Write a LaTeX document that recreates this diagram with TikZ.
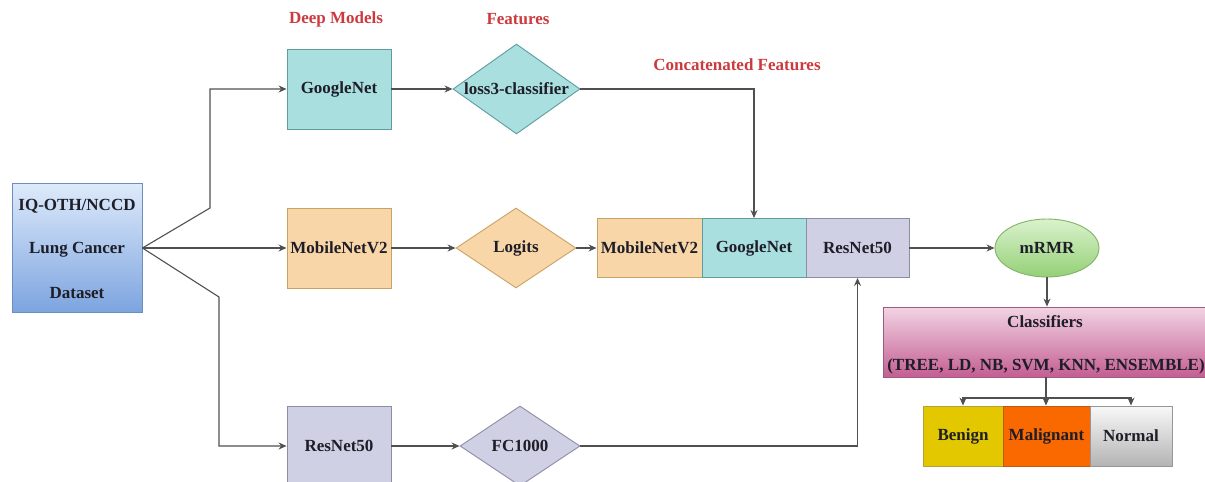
\documentclass[tikz,border=0pt]{standalone}
\usepackage{fontspec}
\setmainfont{Liberation Serif}[BoldFont={Liberation Serif Bold}]
\newfontfamily\tnr{Liberation Serif}[BoldFont={Liberation Serif Bold}]
\usetikzlibrary{shapes.geometric,arrows.meta}
\definecolor{txt}{HTML}{1E1E28}
\definecolor{redlab}{HTML}{CC3A3E}
\definecolor{lnc}{HTML}{505050}
\definecolor{gfill}{HTML}{AADFE0}
\definecolor{gdraw}{HTML}{5E9C9E}
\definecolor{mfill}{HTML}{F9D6A8}
\definecolor{mdraw}{HTML}{C9A266}
\definecolor{rfill}{HTML}{D0D0E4}
\definecolor{rdraw}{HTML}{8C8CA6}
\definecolor{dsdraw}{HTML}{6C8EBF}
\definecolor{dstop}{HTML}{DEEAFA}
\definecolor{dsbot}{HTML}{7CA4E0}
\definecolor{mrdraw}{HTML}{82B366}
\definecolor{mrtop}{HTML}{DAF2CD}
\definecolor{mrbot}{HTML}{94D076}
\definecolor{cldraw}{HTML}{A05A82}
\definecolor{cltop}{HTML}{F2D4E4}
\definecolor{clbot}{HTML}{C45E92}
\definecolor{bfill}{HTML}{E3C800}
\definecolor{bdraw}{HTML}{B4A03C}
\definecolor{mafill}{HTML}{FA6800}
\definecolor{madraw}{HTML}{BE5A14}
\definecolor{ndraw}{HTML}{969696}
\definecolor{ntop}{HTML}{F8F8F8}
\definecolor{nbot}{HTML}{B4B4B4}
\begin{document}
\begin{tikzpicture}[x=1pt,y=-1pt,
  every node/.style={font=\tnr\fontsize{17}{19}\selectfont\bfseries, text=txt, inner sep=0pt},
  boxg/.style={rectangle, draw=gdraw, fill=gfill, line width=0.9pt, minimum width=104pt, minimum height=80pt},
  boxm/.style={rectangle, draw=mdraw, fill=mfill, line width=0.9pt, minimum width=104pt, minimum height=80pt},
  boxr/.style={rectangle, draw=rdraw, fill=rfill, line width=0.9pt, minimum width=104pt, minimum height=80pt},
  dia/.style={diamond, line width=0.9pt, minimum width=120pt, minimum height=80pt},
  outbox/.style={rectangle, line width=0.9pt, minimum height=60pt},
  redtitle/.style={text=redlab},
  conn/.style={draw=lnc, line width=1.1pt, -{Stealth[length=8pt,width=7pt]}},
  plain/.style={draw=lnc, line width=1.1pt}]
\useasboundingbox (0,0) rectangle (1205,482);
% titles
\node[redtitle] (tdeep) at (336,19) {Deep Models};
\node[redtitle] (tfeat) at (518,19) {Features};
\node[redtitle] (tconc) at (737,65) {Concatenated Features};
% dataset
\node[rectangle, draw=dsdraw, top color=dstop, bottom color=dsbot, line width=0.9pt, minimum width=130pt, minimum height=129pt] (ds) at (77,248) {};
\node (dsa) at (77,206) {IQ-OTH/NCCD};
\node (dsb) at (77,250) {Lung Cancer};
\node (dsc) at (77,293) {Dataset};
% models
\node[boxg] (g1) at (339,89) {GoogleNet};
\node[boxm] (m1) at (339,248) {MobileNetV2};
\node[boxr] (r1) at (339,446) {ResNet50};
% features
\node[dia, draw=gdraw, fill=gfill, minimum width=127pt, minimum height=90pt] (dl) at (516.5,89) {};
\node (dlt) at (dl.center) {loss3-classifier};
\node[dia, draw=mdraw, fill=mfill] (dg) at (516,248) {};
\node (dgt) at (dg.center) {Logits};
\node[dia, draw=rdraw, fill=rfill] (df) at (520,446) {};
\node (dft) at (df.center) {FC1000};
% concatenated
\node[boxm, minimum width=105pt, minimum height=59pt] (c1) at (649.5,248) {MobileNetV2};
\node[boxg, minimum width=104pt, minimum height=59pt] (c2) at (754,248) {GoogleNet};
\node[boxr, minimum width=103pt, minimum height=59pt] (c3) at (857.5,248) {ResNet50};
% mRMR
\node[ellipse, draw=mrdraw, top color=mrtop, bottom color=mrbot, line width=0.9pt, minimum width=104pt, minimum height=58pt] (mr) at (1047,248) {mRMR};
% classifiers
\node[rectangle, draw=cldraw, top color=cltop, bottom color=clbot, line width=0.9pt, minimum width=322pt, minimum height=70pt] (cls) at (1044,342) {};
\node (clsa) at (1045,322) {Classifiers};
\node (clsb) at (1046,366) {(TREE, LD, NB, SVM, KNN, ENSEMBLE)};
% outcomes
\node[outbox, draw=bdraw, fill=bfill, minimum width=80pt] (ob) at (963,436) {Benign};
\node[outbox, draw=madraw, fill=mafill, minimum width=87pt] (om) at (1046.5,436) {Malignant};
\node[outbox, draw=ndraw, top color=ntop, bottom color=nbot, minimum width=82pt] (on) at (1131,436) {Normal};
% connectors
\coordinate (kup) at (210,208);
\coordinate (kdn) at (219,297);
\coordinate (split) at (1046,398);
\draw[conn] (ds.east) -- (kup) |- (g1.west);
\draw[conn] (ds.east) -- (m1.west);
\draw[conn] (ds.east) -- (kdn) |- (r1.west);
\draw[conn] (g1.east) -- (dl.west);
\draw[conn] (m1.east) -- (dg.west);
\draw[conn] (r1.east) -- (df.west);
\draw[conn] (dl.east) -| (c2.north);
\draw[conn] (dg.east) -- (c1.west);
\draw[conn] (df.east) -| (c3.south);
\draw[conn] (c3.east) -- (mr.west);
\draw[conn] (mr.south) -- (mr.south |- cls.north);
\draw[plain] (split |- cls.south) -- (split);
\draw[conn] (split) -| (ob.north);
\draw[conn] (split) -| (on.north);
\draw[conn] (split) -- (split |- om.north);
\end{tikzpicture}
\end{document}
